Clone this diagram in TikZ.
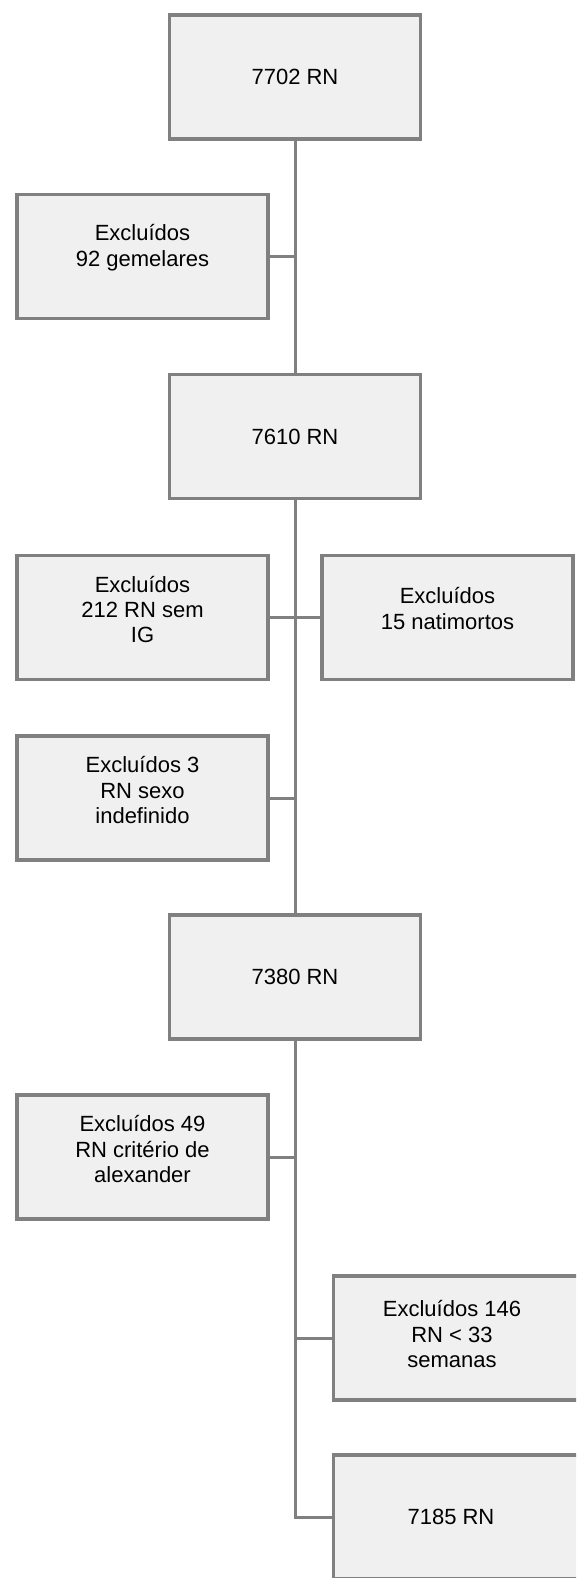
\documentclass[tikz,border=0pt]{standalone}
\usepackage{fontspec}
\setmainfont{Liberation Sans}
\usetikzlibrary{positioning,calc}
\definecolor{boxline}{HTML}{808080}
\definecolor{boxfill}{HTML}{F0F0F0}
\tikzstyle{stage}=[rectangle,draw=boxline,fill=boxfill,line width=3.5pt,minimum width=251pt,minimum height=124pt,inner sep=0pt,font=\fontsize{22}{25.4}\selectfont,align=center]
\tikzstyle{excl}=[stage]
\tikzstyle{txt}=[font=\fontsize{22}{25.4}\selectfont,align=center,inner sep=0pt]
\tikzstyle{link}=[draw=boxline,line width=3pt]

\begin{document}
\begin{tikzpicture}[x=1pt,y=-1pt]
  \useasboundingbox (0,0) rectangle (576,1578);
  \clip (0,0) rectangle (576,1578);

  % Main column
  \node[stage] (n7702) at (295,77) {7702 RN};
  \node[stage] (n7610) at (295,436.5) {7610 RN};
  \node[stage] (n7380) at (295,977) {7380 RN};
  \node[stage] (n7185) at (459,1517) {};
  \node[txt] (t7185) at ([xshift=-8pt]n7185.center) {7185 RN};

  % Exclusions
  \node[excl, label={[txt,yshift=9pt]center:{Excluídos\\92 gemelares}}] (gemelares) at (142.5,256.5) {};
  \node[excl, label={[txt,yshift=8pt]center:{Excluídos\\212 RN sem\\IG}}] (semIG) at (142.5,617.5) {};
  \node[excl, label={[txt,yshift=9pt]center:{Excluídos\\15 natimortos}}] (natimortos) at (447.5,617.5) {};
  \node[excl, label={[txt,yshift=8pt]center:{Excluídos 3\\RN sexo\\indefinido}}] (sexo) at (142.5,798) {};
  \node[excl, label={[txt,yshift=8pt]center:{Excluídos 49\\RN critério de\\alexander}}] (alexander) at (142.5,1157) {};
  \node[excl] (semanas) at (459,1338) {};
  \node[txt] (t146) at ([xshift=-7pt,yshift=4pt]semanas.center) {Excluídos 146\\RN < 33\\semanas};

  % Trunk
  \path[link] (n7702) -- (n7610);
  \path[link] (n7610) -- (n7380);
  \path[link] (n7380.south) |- (n7185.west);

  % Branches
  \path[link] (gemelares.east) -- (gemelares.east -| n7702.south);
  \path[link] (semIG.east) -- (natimortos.west);
  \path[link] (sexo.east) -- (sexo.east -| n7610.south);
  \path[link] (alexander.east) -- (alexander.east -| n7380.south);
  \path[link] (semanas.west) -- (semanas.west -| n7380.south);
\end{tikzpicture}
\end{document}
